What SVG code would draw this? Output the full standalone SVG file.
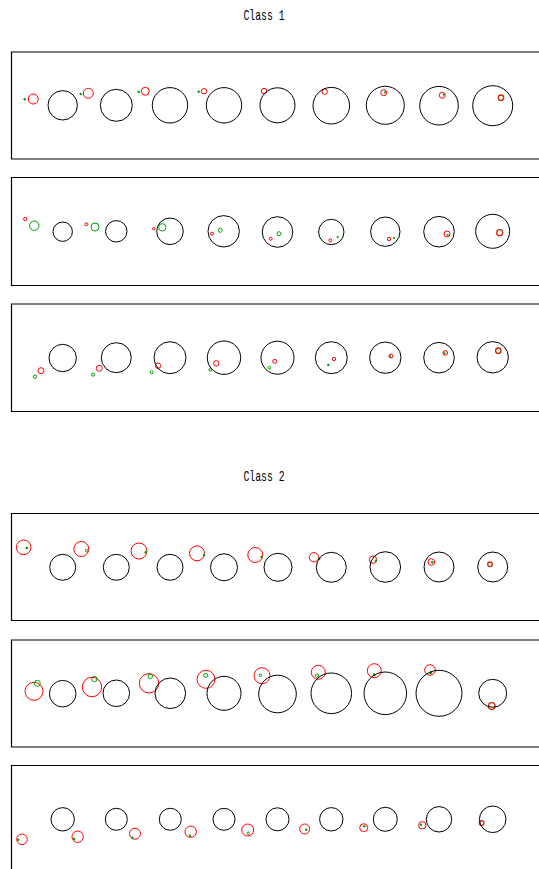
<svg xmlns="http://www.w3.org/2000/svg" width="539" height="869" viewBox="0 0 539 869">
<style>
.t{font-family:"Liberation Mono","DejaVu Sans Mono",monospace;font-size:15px;fill:#000}
.fr{fill:none;stroke:#000;stroke-width:1.2}
.b{fill:none;stroke:#000;stroke-width:1}
.r{fill:none;stroke:#f00;stroke-width:1}
.g{fill:none;stroke:#00a000;stroke-width:1}
.gd{fill:#00a000;stroke:none}
.rd{fill:none;stroke:#c82800;stroke-width:1.3}
</style>
<rect width="539" height="869" fill="#fff"/>
<text class="t" x="264" y="20" text-anchor="middle" textLength="41" lengthAdjust="spacingAndGlyphs">Class 1</text>
<text class="t" x="264" y="481" text-anchor="middle" textLength="41" lengthAdjust="spacingAndGlyphs">Class 2</text>
<g id="frames">
<path class="fr" d="M540,52 H11.5 V159 H540"/>
<path class="fr" d="M540,177.5 H11.5 V285.5 H540"/>
<path class="fr" d="M540,304 H11.5 V411.5 H540"/>
<path class="fr" d="M540,513.5 H11.5 V620.5 H540"/>
<path class="fr" d="M540,640 H11.5 V747 H540"/>
<path class="fr" d="M540,765.5 H11.5 V870"/>
</g>
<g id="panel1">
<circle class="gd" cx="24.7" cy="99.3" r="1.2"/><circle class="r" cx="33.3" cy="99" r="5"/>
<circle class="b" cx="62.7" cy="105.3" r="14.7"/>
<circle class="gd" cx="80.7" cy="94" r="1.2"/><circle class="r" cx="88.3" cy="93.3" r="5"/>
<circle class="b" cx="116.3" cy="105.3" r="16"/>
<circle class="gd" cx="138.7" cy="92" r="1.2"/><circle class="r" cx="145.3" cy="91.3" r="4"/>
<circle class="b" cx="170" cy="105.3" r="17.7"/>
<circle class="gd" cx="198.7" cy="91.7" r="1.2"/><circle class="r" cx="204" cy="91.3" r="2.7"/>
<circle class="b" cx="224" cy="105.3" r="17.7"/>
<circle class="r" cx="264" cy="91" r="2.7"/>
<circle class="b" cx="277.5" cy="105.3" r="17.5"/>
<circle class="r" cx="324.7" cy="91.7" r="2.7"/>
<circle class="b" cx="331.3" cy="105.7" r="18.3"/>
<circle class="gd" cx="385" cy="92.3" r="1.1"/><circle class="r" cx="383.7" cy="92.7" r="3"/>
<circle class="b" cx="385.3" cy="105.3" r="19"/>
<circle class="gd" cx="443.7" cy="94.7" r="1.1"/><circle class="r" cx="442.3" cy="95.3" r="3"/>
<circle class="b" cx="439" cy="105.7" r="19.3"/>
<circle class="rd" cx="501" cy="97.7" r="2.7"/>
<circle class="b" cx="492.7" cy="105.7" r="20"/>
</g>
<g id="panel2">
<circle class="r" cx="25.3" cy="219" r="1.7"/><circle class="g" cx="34.3" cy="225.7" r="4.7"/>
<circle class="b" cx="62.7" cy="231.7" r="9.7"/>
<circle class="r" cx="86.3" cy="224.3" r="1.5"/><circle class="g" cx="95" cy="227" r="4"/>
<circle class="b" cx="116.3" cy="231.3" r="10.7"/>
<circle class="r" cx="153.7" cy="228.7" r="1.2" fill="#f00"/><circle class="g" cx="162.3" cy="227.3" r="3.7"/>
<circle class="b" cx="170" cy="231.3" r="13.3"/>
<circle class="r" cx="212" cy="233.7" r="1.5"/><circle class="g" cx="220.3" cy="230.3" r="2"/>
<circle class="b" cx="223.7" cy="231.3" r="15.7"/>
<circle class="r" cx="270.7" cy="238.7" r="1.5"/><circle class="g" cx="279" cy="233.7" r="2"/>
<circle class="b" cx="277.5" cy="232" r="15.3"/>
<circle class="r" cx="330.3" cy="240.3" r="1.5"/><circle class="gd" cx="337.7" cy="237" r="1.1"/>
<circle class="b" cx="331.3" cy="232" r="12.7"/>
<circle class="r" cx="389" cy="239" r="1.7"/><circle class="gd" cx="394" cy="238" r="1.1"/>
<circle class="b" cx="385.3" cy="231.7" r="14.7"/>
<circle class="gd" cx="447.7" cy="235" r="1.1"/><circle class="r" cx="447" cy="234" r="3"/>
<circle class="b" cx="439" cy="231.7" r="15.3"/>
<circle class="rd" cx="499.7" cy="232.7" r="3"/>
<circle class="b" cx="492.7" cy="231.3" r="17"/>
</g>
<g id="panel3">
<circle class="g" cx="35" cy="376.7" r="1.7"/><circle class="r" cx="41" cy="370.7" r="3"/>
<circle class="b" cx="62.7" cy="358" r="13.7"/>
<circle class="g" cx="93" cy="374.7" r="1.5"/><circle class="r" cx="99.3" cy="368.3" r="3"/>
<circle class="b" cx="116.3" cy="357.7" r="15"/>
<circle class="g" cx="151.7" cy="372.3" r="1.5"/><circle class="r" cx="158" cy="365.7" r="2.7"/>
<circle class="b" cx="170" cy="357.7" r="16"/>
<circle class="g" cx="210.3" cy="370" r="1.3"/><circle class="r" cx="216.3" cy="363.3" r="2.7"/>
<circle class="b" cx="224" cy="357.7" r="16.7"/>
<circle class="g" cx="269.3" cy="367.7" r="1.3"/><circle class="r" cx="274.7" cy="361.3" r="2"/>
<circle class="b" cx="277.5" cy="357.7" r="16.5"/>
<circle class="gd" cx="328.3" cy="365" r="1.2"/><circle class="r" cx="334" cy="359" r="1.7"/>
<circle class="b" cx="331.3" cy="357.7" r="16"/>
<circle class="gd" cx="390.3" cy="356.3" r="1.1"/><circle class="r" cx="391" cy="356" r="2"/>
<circle class="b" cx="385.3" cy="357.7" r="15.7"/>
<circle class="gd" cx="444.7" cy="353.3" r="1.1"/><circle class="r" cx="445.3" cy="353" r="2.3"/>
<circle class="b" cx="439" cy="357.7" r="15.3"/>
<circle class="rd" cx="498.3" cy="350.7" r="2.7"/>
<circle class="b" cx="492.7" cy="357.3" r="15.7"/>
</g>
<g id="panel4">
<circle class="r" cx="23.7" cy="547.3" r="7.3"/><circle class="gd" cx="26.7" cy="548" r="1.3"/>
<circle class="b" cx="62.7" cy="567.3" r="13"/>
<circle class="r" cx="81.3" cy="549" r="7.5"/><circle class="g" cx="86.7" cy="550.7" r="1.3"/>
<circle class="b" cx="116.3" cy="567.3" r="13"/>
<circle class="r" cx="139" cy="551" r="8"/><circle class="gd" cx="145.7" cy="552.3" r="1.3"/>
<circle class="b" cx="170" cy="567.3" r="13"/>
<circle class="r" cx="197" cy="553.3" r="7.5"/><circle class="gd" cx="204" cy="555" r="1.3"/>
<circle class="b" cx="224" cy="567.3" r="13.5"/>
<circle class="r" cx="255.3" cy="555" r="7.5"/><circle class="gd" cx="261.7" cy="557" r="1.3"/>
<circle class="b" cx="278" cy="567.3" r="14"/>
<circle class="r" cx="314" cy="557.3" r="4.7"/><circle class="gd" cx="319.3" cy="558.7" r="1.2"/>
<circle class="b" cx="331.3" cy="567.3" r="15"/>
<circle class="r" cx="373" cy="559.7" r="3.7"/><circle class="gd" cx="376" cy="560.7" r="1.2"/>
<circle class="b" cx="385.3" cy="567" r="15.3"/>
<circle class="r" cx="431.3" cy="562" r="3.3"/><circle class="gd" cx="432.3" cy="562.3" r="1.2"/>
<circle class="b" cx="439" cy="567" r="15"/>
<circle class="rd" cx="490" cy="564.3" r="2.3"/>
<circle class="b" cx="492.7" cy="567" r="15"/>
</g>
<g id="panel5">
<circle class="r" cx="34" cy="691.3" r="9"/><circle class="g" cx="37.3" cy="683.3" r="3"/>
<circle class="b" cx="62.7" cy="693.7" r="13.3"/>
<circle class="r" cx="92" cy="687" r="9.7"/><circle class="g" cx="94.3" cy="679" r="2.7"/>
<circle class="b" cx="116.3" cy="693.3" r="13.3"/>
<circle class="r" cx="149" cy="683.3" r="9.7"/><circle class="g" cx="150.3" cy="676.3" r="2.3"/>
<circle class="b" cx="170.3" cy="693.3" r="15.3"/>
<circle class="r" cx="206" cy="679.3" r="9"/><circle class="g" cx="205.7" cy="675.3" r="2"/>
<circle class="b" cx="224" cy="693.3" r="17"/>
<circle class="r" cx="262" cy="675.7" r="8"/><circle class="g" cx="260.3" cy="675.3" r="1.3"/>
<circle class="b" cx="277.5" cy="694" r="18.8"/>
<circle class="r" cx="318.3" cy="672.3" r="7"/><circle class="g" cx="317" cy="675.7" r="1.6"/>
<circle class="b" cx="331.3" cy="693.3" r="20.3"/>
<circle class="r" cx="374.3" cy="670.7" r="7"/><circle class="gd" cx="374.3" cy="674.7" r="1.5"/>
<circle class="b" cx="385.3" cy="693.3" r="21.3"/>
<circle class="r" cx="430" cy="670" r="5.3"/><circle class="gd" cx="430.7" cy="672.7" r="1.5"/>
<circle class="b" cx="439" cy="693.3" r="23"/>
<circle class="rd" cx="491.7" cy="706" r="3.3"/>
<circle class="b" cx="492.7" cy="693.3" r="14"/>
</g>
<g id="panel6">
<circle class="r" cx="22" cy="839.3" r="5.3"/><circle class="gd" cx="18.3" cy="839.7" r="1.2"/>
<circle class="b" cx="62.7" cy="819.3" r="11.7"/>
<circle class="r" cx="77.7" cy="836.7" r="5.7"/><circle class="gd" cx="74" cy="839" r="1.2"/>
<circle class="b" cx="116.3" cy="819.3" r="11"/>
<circle class="r" cx="135" cy="833.7" r="5.5"/><circle class="gd" cx="132.3" cy="837.7" r="1.2"/>
<circle class="b" cx="170.3" cy="819.3" r="11"/>
<circle class="r" cx="190.7" cy="831.7" r="5.7"/><circle class="gd" cx="190" cy="835.7" r="1.2"/>
<circle class="b" cx="224" cy="819.3" r="11"/>
<circle class="r" cx="247.7" cy="830" r="6"/><circle class="g" cx="248.3" cy="833.3" r="1.2"/>
<circle class="b" cx="277.5" cy="819.3" r="11.5"/>
<circle class="r" cx="304.7" cy="829" r="5"/><circle class="gd" cx="306.3" cy="829.7" r="1.2"/>
<circle class="b" cx="331.3" cy="819.3" r="11.7"/>
<circle class="r" cx="363.7" cy="827.7" r="4"/><circle class="gd" cx="364.3" cy="826.3" r="1.2"/>
<circle class="b" cx="385.3" cy="819.3" r="12"/>
<circle class="r" cx="422.3" cy="825.3" r="3.7"/><circle class="gd" cx="421" cy="824.7" r="1.2"/>
<circle class="b" cx="439" cy="819.3" r="12.7"/>
<circle class="rd" cx="481.7" cy="823" r="2.3"/>
<circle class="b" cx="492.7" cy="819.3" r="13.3"/>
</g>
</svg>
